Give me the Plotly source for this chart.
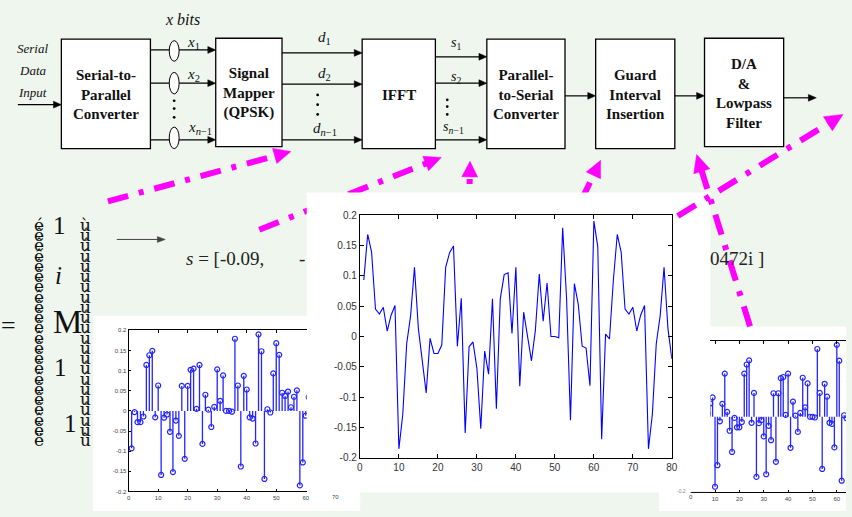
import plotly.graph_objects as go

W, H = 852, 517

# ---------------- data ----------------
# OFDM symbol with guard interval (80 samples) - centre line plot and right stem plot
guarded_samples = [
    0.093, 0.168, 0.139, 0.045, 0.037, 0.048, 0.009, 0.035, 0.051, -0.185,
    -0.128, -0.012, 0.034, 0.114, 0.013, -0.037, -0.093, -0.003, -0.028, -0.028,
    -0.014, 0.114, 0.138, 0.149, -0.016, 0.063, -0.159, -0.017, -0.009, -0.052,
    -0.152, -0.024, -0.062, 0.062, -0.119, 0.062, 0.102, 0.105, 0.005, 0.114,
    -0.082, 0.040, 0.003, -0.040, 0.010, 0.103, 0.025, 0.088, 0.000, 0.000,
    -0.002, 0.179, 0.063, -0.138, 0.087, 0.053, -0.016, -0.019, -0.081, 0.190,
    0.148, -0.169, 0.004, -0.004, 0.093, 0.168, 0.139, 0.045, 0.037, 0.048,
    0.009, 0.035, 0.051, -0.185, -0.128, -0.012, 0.034, 0.114, 0.013, -0.037,
]
# IFFT output (64 samples) - left stem plot
ifft_samples = [
    -0.093, -0.003, -0.028, -0.028, -0.014, 0.114, 0.138, 0.149, -0.016, 0.063,
    -0.159, -0.017, -0.009, -0.052, -0.152, -0.024, -0.062, 0.062, -0.119, 0.062,
    0.102, 0.105, 0.005, 0.114, -0.082, 0.040, 0.003, -0.040, 0.010, 0.103,
    0.025, 0.088, 0.000, 0.000, -0.002, 0.179, 0.063, -0.138, 0.087, 0.053,
    -0.016, -0.019, -0.081, 0.190, 0.148, -0.169, 0.004, -0.004, 0.093, 0.168,
    0.139, 0.045, 0.037, 0.048, 0.009, 0.035, 0.051, -0.185, -0.128, -0.012,
    0.034, 0.114, 0.013, -0.037,
]
line_x_ticks = [0, 10, 20, 30, 40, 50, 60, 70, 80]
line_x_ticklabels = ["0", "10", "20", "30", "40", "50", "60", "70", "80"]
stem_x_ticks = [0, 10, 20, 30, 40, 50, 60]
stem_x_ticklabels = ["0", "10", "20", "30", "40", "50", "60"]
amp_ticks = [0.2, 0.15, 0.1, 0.05, 0, -0.05, -0.1, -0.15, -0.2]
amp_ticklabels = ["0.2", "0.15", "0.1", "0.05", "0", "-0.05", "-0.1", "-0.15", "-0.2"]

block_texts = [
    "Serial-to-<br>Parallel<br>Converter",
    "Signal<br>Mapper<br>(QPSK)",
    "IFFT",
    "Parallel-<br>to-Serial<br>Converter",
    "Guard<br>Interval<br>Insertion",
    "D/A<br>&amp;<br>Lowpass<br>Filter",
]
input_words = ["Serial", "Data", "Input"]
x_labels = ["<i>x</i><sub>1</sub>", "<i>x</i><sub>2</sub>", "<i>x</i><sub><i>n</i>−1</sub>"]
d_labels = ["<i>d</i><sub>1</sub>", "<i>d</i><sub>2</sub>", "<i>d</i><sub><i>n</i>−1</sub>"]
s_labels = ["<i>s</i><sub>1</sub>", "<i>s</i><sub>2</sub>", "<i>s</i><sub><i>n</i>−1</sub>"]

# ---------------- helpers ----------------
def PX(x):
    return x / W

def PY(y):
    return 1 - y / H

BG = "#EEF6EE"
MAG = "#FF00FF"
SERIF = "Liberation Serif"
SANS = "Liberation Sans"

shapes = []
annotations = []


def rect(x0, y0, x1, y1, fill="white", line_color="black", lw=1.3):
    shapes.append(dict(type="rect", xref="paper", yref="paper", layer="below",
                       x0=PX(x0), x1=PX(x1), y0=PY(y1), y1=PY(y0),
                       fillcolor=fill, line=dict(color=line_color, width=lw)))


def arrow(x0, y0, x1, y1, color="black", lw=1.2, L=8, w=3.5, dash="solid"):
    dx, dy = x1 - x0, y1 - y0
    n = (dx * dx + dy * dy) ** 0.5
    ux, uy = dx / n, dy / n
    bx, by = x1 - L * ux, y1 - L * uy
    shapes.append(dict(type="line", xref="paper", yref="paper", layer="below",
                       x0=PX(x0), y0=PY(y0), x1=PX(bx + ux), y1=PY(by + uy),
                       line=dict(color=color, width=lw, dash=dash)))
    px_, py_ = -uy, ux
    pts = [(x1, y1), (bx + w * px_, by + w * py_), (bx - w * px_, by - w * py_)]
    path = "M " + " L ".join(f"{PX(a):.5f},{PY(b):.5f}" for a, b in pts) + " Z"
    shapes.append(dict(type="path", xref="paper", yref="paper", layer="below",
                       path=path, fillcolor=color, line=dict(color=color, width=0.5)))


def text(x, y, s, size=15, family=SERIF, color="#111", xanchor="center", yanchor="middle"):
    annotations.append(dict(x=PX(x), y=PY(y), xref="paper", yref="paper", text=s,
                            showarrow=False, xanchor=xanchor, yanchor=yanchor,
                            font=dict(size=size, family=family, color=color)))


def dot(x, y, r=1.4):
    shapes.append(dict(type="circle", xref="paper", yref="paper", layer="below",
                       x0=PX(x - r), x1=PX(x + r), y0=PY(y + r), y1=PY(y - r),
                       fillcolor="black", line=dict(width=0)))


# ---------------- background panels ----------------
rect(91, 317, 361, 517, fill="white", line_color="white", lw=0)     # left stem image
rect(663, 328, 852, 517, fill="white", line_color="white", lw=0)    # right stem image

# magenta dash-dot arrows that lie below the central picture
MDASH = "21px,11px,5px,11px"
arrow(106, 200, 291, 149, color=MAG, lw=6, L=17, w=8, dash=MDASH)
arrow(259, 229, 443, 155, color=MAG, lw=6, L=17, w=8, dash=MDASH)
arrow(471, 215, 472, 159, color=MAG, lw=6, L=16, w=8, dash=MDASH)
arrow(584, 200, 604, 158, color=MAG, lw=6, L=17, w=8, dash=MDASH)

rect(307, 191, 715, 498, fill="white", line_color="white", lw=0)    # central image

# magenta arrows above the central picture
arrow(682, 215, 849, 111, color=MAG, lw=6, L=18, w=8.5, dash=MDASH)
arrow(755, 328, 701, 152, color=MAG, lw=6, L=18, w=8.5, dash=MDASH)

# ---------------- block diagram ----------------
boxes = [(59, 34, 149, 146), (215, 33, 282, 144), (363, 34, 437, 146),
         (489, 34, 568, 146), (599, 34, 679, 146), (709, 33, 789, 144)]
for (x0, y0, x1, y1) in boxes:
    rect(x0, y0, x1, y1)
for (x0, y0, x1, y1), s in zip(boxes, block_texts):
    text((x0 + x1) / 2, (y0 + y1) / 2 + 1, "<b>" + s + "</b>", size=15)

arrow(15, 101, 59, 101)
for y in [45, 79, 137]:
    arrow(149, y, 215, y)
for yc, h in [(46, 21), (79, 22), (135, 22)]:
    shapes.append(dict(type="circle", xref="paper", yref="paper", layer="below",
                       x0=PX(168), x1=PX(178), y0=PY(yc + h / 2), y1=PY(yc - h / 2),
                       fillcolor="white", line=dict(color="black", width=1)))
for y in [48, 80, 137]:
    arrow(282, y, 363, y)
for y in [52, 79, 137]:
    arrow(437, y, 489, y)
arrow(568, 92, 599, 92)
arrow(679, 92, 709, 92)
arrow(789, 94, 822, 94)

for y in [97, 105, 114]:
    dot(173, y)
for y in [91, 101, 111]:
    dot(318, y)
for y in [96, 103, 111]:
    dot(449, y)

text(181, 14, "<i>x bits</i>", size=16)
for s, y in zip(input_words, [43, 66, 89]):
    text(30, y, "<i>" + s + "</i>", size=13)
for s, (x, y) in zip(x_labels, [(193, 38), (193, 71), (199, 125)]):
    text(x, y, s, size=15)
for s, (x, y) in zip(d_labels, [(325, 33), (325, 70), (325, 126)]):
    text(x, y, s, size=15)
for s, (x, y) in zip(s_labels, [(458, 38), (458, 73), (455, 124)]):
    text(x, y, s, size=14)

# ---------------- formula text ----------------
text(6, 327, "=", size=26, color="#111")
for i in range(22):
    y = 224 + i * 10.5
    lg = "é" if i == 0 else ("ë" if i == 21 else "ê")
    rg = "ù" if i == 0 else ("û" if i == 21 else "ú")
    text(36, y, lg, size=17, family="DejaVu Serif")
    text(83, y, rg, size=17, family="DejaVu Serif")
text(57, 225, "1", size=25)
text(56, 276, "<i>i</i>", size=25)
text(65, 324, "M", size=33)
text(58, 370, "1", size=25)
text(68, 427, "1", size=25)
arrow(115, 239, 164, 239, color="#444", lw=1, L=8, w=3)
text(183, 258, "<i>s</i> = [-0.09,", size=19, xanchor="left", color="#222")
text(302, 258, "-", size=19, color="#222")
text(713, 258, "0472i ]", size=19, xanchor="left", color="#222")

# small leftover labels of the partly hidden stem pictures
text(336, 503, "70", size=6, family=SANS, color="#444")
text(695, 503, "0", size=6, family=SANS, color="#444")
text(692, 497, "-0.2", size=5, family=SANS, color="#888", xanchor="right")
shapes.append(dict(type="line", xref="paper", yref="paper", layer="below",
                   x0=PX(695), x1=PX(716), y0=PY(498), y1=PY(498),
                   line=dict(color="black", width=1)))

# ---------------- traces ----------------
fig = go.Figure()

n80 = list(range(1, len(guarded_samples) + 1))
fig.add_trace(go.Scatter(x=n80, y=guarded_samples, mode="lines",
                         line=dict(color="#0000FF", width=1.1),
                         xaxis="x", yaxis="y", showlegend=False, hoverinfo="skip"))


def stems(xs, ys):
    sx, sy = [], []
    for a, b in zip(xs, ys):
        sx += [a, a, None]
        sy += [0, b, None]
    return sx, sy


n64 = list(range(1, len(ifft_samples) + 1))
for xs, ys, xa, ya in [(n64, ifft_samples, "x2", "y2"), (n80, guarded_samples, "x3", "y3")]:
    sx, sy = stems(xs, ys)
    fig.add_trace(go.Scatter(x=sx, y=sy, mode="lines", line=dict(color="#2525FF", width=1.3),
                             xaxis=xa, yaxis=ya, showlegend=False, hoverinfo="skip"))
    fig.add_trace(go.Scatter(x=xs, y=ys, mode="markers",
                             marker=dict(symbol="circle-open", size=5, color="#2525FF",
                                         line=dict(width=1.2)),
                             xaxis=xa, yaxis=ya, showlegend=False, hoverinfo="skip"))

ax_common = dict(showgrid=False, zeroline=False, showline=True, linecolor="black",
                 ticks="inside", tickcolor="black", fixedrange=True)

fig.update_layout(
    width=W, height=H, autosize=False,
    margin=dict(l=0, r=0, t=0, b=0),
    paper_bgcolor=BG, plot_bgcolor="rgba(0,0,0,0)",
    shapes=shapes, annotations=annotations,
    xaxis=dict(**ax_common, domain=[PX(360.7), PX(676)], range=[0, 80], anchor="y",
               tickvals=line_x_ticks, ticktext=line_x_ticklabels, mirror="ticks",
               ticklen=4, linewidth=1.2, tickfont=dict(size=10, family=SANS, color="#333")),
    yaxis=dict(**ax_common, domain=[PY(462.7), PY(214)], range=[-0.2, 0.2], anchor="x",
               tickvals=amp_ticks, ticktext=amp_ticklabels, mirror="ticks",
               ticklen=4, linewidth=1.2, tickfont=dict(size=10, family=SANS, color="#333")),
    xaxis2=dict(**ax_common, domain=[PX(127), PX(307)], range=[0, 60.34], anchor="y2",
                tickvals=stem_x_ticks, ticktext=stem_x_ticklabels, mirror="ticks",
                ticklen=2.5, linewidth=1, tickfont=dict(size=6, family=SANS, color="#444")),
    yaxis2=dict(**ax_common, domain=[PY(497), PY(332)], range=[-0.2, 0.2], anchor="x2",
                tickvals=amp_ticks, ticktext=amp_ticklabels, mirror=False,
                ticklen=2.5, linewidth=1, tickfont=dict(size=6, family=SANS, color="#444")),
    xaxis3=dict(**ax_common, domain=[PX(715), 1], range=[8.12, 63.77], anchor="y3",
                tickvals=stem_x_ticks, ticktext=stem_x_ticklabels, mirror="ticks",
                ticklen=2.5, linewidth=1, tickfont=dict(size=6, family=SANS, color="#444")),
    yaxis3=dict(showgrid=False, zeroline=False, showline=False, showticklabels=False,
                ticks="", domain=[PY(498), PY(343)], range=[-0.2, 0.2], anchor="x3",
                fixedrange=True),
)

fig.write_html("out.html", config={"displayModeBar": False},
               post_script="document.body.style.margin='0';document.body.style.overflow='hidden';")
